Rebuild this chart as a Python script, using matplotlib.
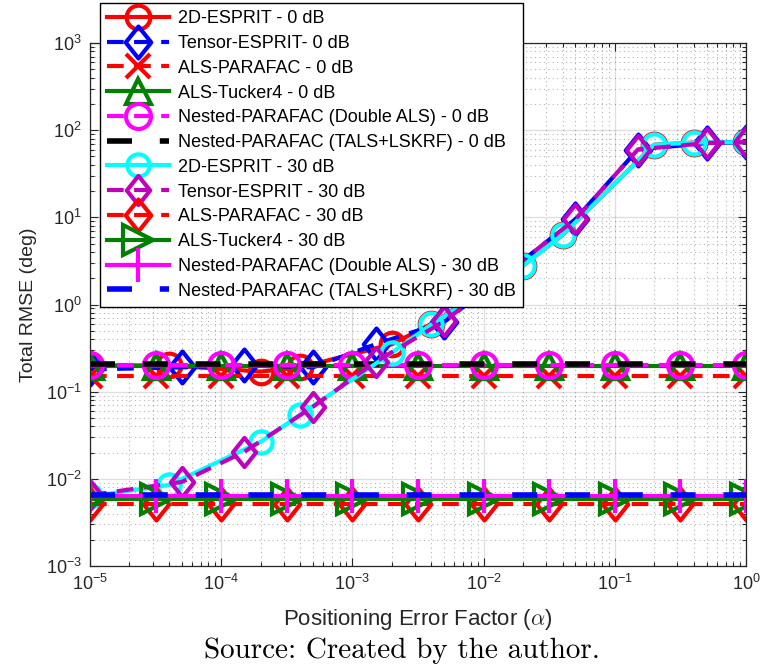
import matplotlib
matplotlib.use("Agg")
import matplotlib.pyplot as plt
from matplotlib.path import Path
from matplotlib.ticker import LogLocator, NullFormatter

plt.rcParams.update({
    'font.family': ['Liberation Sans', 'DejaVu Sans'],
    'mathtext.fontset': 'custom',
    'mathtext.rm': 'Liberation Sans',
    'mathtext.it': 'Liberation Sans:italic',
    'mathtext.default': 'regular',
    'axes.unicode_minus': False,
})

# positioning error factor (each curve was sampled on its own grid)
alpha_half = [1e-5, 3.16e-5, 1e-4, 3.16e-4, 1e-3, 3.16e-3, 1e-2, 3.16e-2, 1e-1, 3.16e-1, 1]
alpha_esprit = [1e-5, 4e-5, 2e-4, 4e-4, 2e-3, 4e-3, 2e-2, 4e-2, 2e-1, 4e-1, 1]
alpha_tensor = [1e-5, 5e-5, 1.5e-4, 5e-4, 1.5e-3, 5e-3, 1.5e-2, 5e-2, 1.5e-1, 5e-1, 1]

# total RMSE (deg), SNR = 0 dB
esprit_0db = [0.20, 0.20, 0.17, 0.19, 0.35, 0.60, 2.8, 6.3, 68, 72, 73]
tensor_0db = [0.18, 0.19, 0.20, 0.19, 0.35, 0.63, 2.3, 9.5, 60, 71, 73]
parafac_0db = [0.15, 0.15, 0.15, 0.15, 0.15, 0.15, 0.15, 0.15, 0.15, 0.15, 0.15]
tucker_0db = [0.195, 0.195, 0.195, 0.195, 0.195, 0.195, 0.195, 0.195, 0.195, 0.195, 0.195]
nested_als_0db = [0.20, 0.20, 0.20, 0.20, 0.20, 0.20, 0.20, 0.20, 0.20, 0.20, 0.20]
nested_tals_0db = [0.205, 0.205, 0.205, 0.205, 0.205, 0.205, 0.205, 0.205, 0.205, 0.205, 0.205]

# total RMSE (deg), SNR = 30 dB
esprit_30db = [0.0063, 0.0085, 0.0266, 0.0545, 0.28, 0.59, 2.8, 6.3, 68, 72, 73]
tensor_30db = [0.0065, 0.0092, 0.0204, 0.067, 0.22, 0.64, 2.3, 9.5, 60, 71, 73]
parafac_30db = [0.0052, 0.0052, 0.0052, 0.0052, 0.0052, 0.0052, 0.0052, 0.0052, 0.0052, 0.0052, 0.0052]
tucker_30db = [0.0059, 0.0059, 0.0059, 0.0059, 0.0059, 0.0059, 0.0059, 0.0059, 0.0059, 0.0059, 0.0059]
nested_als_30db = [0.0064, 0.0064, 0.0064, 0.0064, 0.0064, 0.0064, 0.0064, 0.0064, 0.0064, 0.0064, 0.0064]
nested_tals_30db = [0.0065, 0.0065, 0.0065, 0.0065, 0.0065, 0.0065, 0.0065, 0.0065, 0.0065, 0.0065, 0.0065]

# matlab-like diamond
diamond = Path([(0, 1), (0.8, 0), (0, -1), (-0.8, 0), (0, 1)],
               [Path.MOVETO, Path.LINETO, Path.LINETO, Path.LINETO, Path.CLOSEPOLY])

purple = (0.75, 0, 0.75)
green = (0, 0.5, 0)
dash = (4, 2.5)
longdash = (4.5, 5)

fig = plt.figure(figsize=(7.62, 6.69), dpi=100)
ax = fig.add_axes([90 / 762, 1 - 566 / 669, 656 / 762, 523 / 669])

def curve(x, y, color, ls, marker=None, ms=16, lw=3.0, label=None):
    ln, = ax.plot(x, y, color=color, lw=lw, marker=marker, ms=ms, mew=lw,
                  mfc='none', mec=color, label=label)
    if ls != '-':
        ln.set_dashes(ls)
    return ln

curve(alpha_esprit, esprit_0db, 'red', '-', 'o', 17, label='2D-ESPRIT - 0 dB')
curve(alpha_tensor, tensor_0db, 'blue', dash, diamond, 23, label='Tensor-ESPRIT- 0 dB')
curve(alpha_half, parafac_0db, 'red', dash, 'x', 17, label='ALS-PARAFAC - 0 dB')
curve(alpha_half, tucker_0db, green, '-', '^', 18, label='ALS-Tucker4 - 0 dB')
curve(alpha_half, nested_als_0db, 'magenta', dash, 'o', 18, label='Nested-PARAFAC (Double ALS) - 0 dB')
curve(alpha_half, nested_tals_0db, 'black', longdash, None, lw=4.0,
      label='Nested-PARAFAC (TALS+LSKRF) - 0 dB')
curve(alpha_esprit, esprit_30db, 'cyan', '-', 'o', 16, label='2D-ESPRIT - 30 dB')
curve(alpha_tensor, tensor_30db, purple, dash, diamond, 21, label='Tensor-ESPRIT - 30 dB')
curve(alpha_half, parafac_30db, 'red', dash, diamond, 23, label='ALS-PARAFAC - 30 dB')
curve(alpha_half, tucker_30db, green, '-', '>', 21, label='ALS-Tucker4 - 30 dB')
curve(alpha_half, nested_als_30db, 'magenta', '-', '+', 25, label='Nested-PARAFAC (Double ALS) - 30 dB')
curve(alpha_half, nested_tals_30db, 'blue', longdash, None, lw=4.0,
      label='Nested-PARAFAC (TALS+LSKRF) - 30 dB')

ax.set_xscale('log')
ax.set_yscale('log')
ax.set_xlim(1e-5, 1)
ax.set_ylim(1e-3, 1e3)
ax.xaxis.set_major_locator(LogLocator(base=10, numticks=10))
ax.yaxis.set_major_locator(LogLocator(base=10, numticks=10))
ax.xaxis.set_minor_locator(LogLocator(base=10, subs=range(2, 10), numticks=20))
ax.yaxis.set_minor_locator(LogLocator(base=10, subs=range(2, 10), numticks=20))
ax.xaxis.set_minor_formatter(NullFormatter())
ax.yaxis.set_minor_formatter(NullFormatter())

dark = (0.15, 0.15, 0.15)
ax.grid(True, which='major', color=dark, alpha=0.15, lw=1.0, ls='-')
ax.grid(True, which='minor', color=dark, alpha=0.35, lw=0.8, ls=(0, (1, 3)))
ax.set_axisbelow(True)
ax.tick_params(which='both', direction='in', top=True, right=True, colors=dark,
               labelsize=13, width=0.8)
ax.tick_params(which='major', length=6, pad=6)
ax.tick_params(which='minor', length=3)
for s in ax.spines.values():
    s.set_color(dark)
    s.set_linewidth(0.9)

ax.set_ylabel('Total RMSE (deg)', fontsize=14, color=dark, labelpad=6)
ax.set_xlabel(r'Positioning Error Factor ($\mathit{\alpha}$)', fontsize=16, color=dark,
              labelpad=9, math_fontfamily='cm')

fig.text(0.527, 1 - 651 / 669, 'Source: Created by the author.', family='cmr10',
         fontsize=21, ha='center', va='center')

leg = ax.legend(loc='upper left', bbox_to_anchor=(100 / 762, 1 - 3 / 669),
                bbox_transform=fig.transFigure, fontsize=13, numpoints=1,
                fancybox=False, edgecolor='black', framealpha=1, labelspacing=0.43,
                handlelength=3.4, handletextpad=0.5, borderpad=0.4, borderaxespad=0)
leg.get_frame().set_linewidth(1.0)

fig.savefig('out.png', dpi=100)
